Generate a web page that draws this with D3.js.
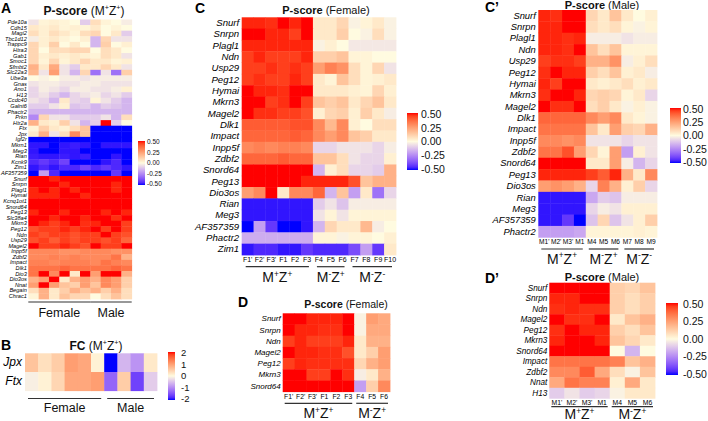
<!DOCTYPE html>
<html><head><meta charset="utf-8">
<script src="https://cdn.jsdelivr.net/npm/d3@7"></script>
<style>
body{margin:0;background:#fff;}
svg{display:block;font-family:"Liberation Sans",Arial,sans-serif;}
</style></head>
<body><svg id="chart" width="708" height="421"></svg>
<script>
// ---------------- DATA ----------------
const genesA = ["Pde10a","Cdh15","Magi2","Tbc1d12","Trappc9","Htra3","Gab1","Smoc1","Sfmbt2","Slc22a3","Ube3a","Gnas","Ano1","H13","Ccdc40","Galnt6","Phactr2","Prkn","Htr2a","Ftx","Jpx","Igf2r","Mkrn1","Meg3","Rian","Kcnk9","Zim1","AF357359","Snurf","Snrpn","Plagl1","Hymai","Kcnq1ot1","Snord64","Peg13","Slc38a4","Mkrn3","Peg12","Ndn","Usp29","Magel2","Inpp5f","Zdbf2","Impact","Dlk1","Dio3","Dio3os","Nnat","Begain","Chrac1"];
const samplesA = ["1","2","3","4","5","6","7","8","9","10"];
const sexGroupsA = [{label:"Female", from:"1", to:"6"},{label:"Male", from:"7", to:"10"}];
const valuesA = [
[-0.05,0.02,0.03,0.02,0.0,-0.1,0.08,0.02,0.0,-0.03],
[0.05,0.03,0.05,0.02,0.03,0.02,0.05,0.0,0.02,0.0],
[0.08,0.03,0.08,0.05,0.02,0.08,0.1,0.0,0.05,-0.1],
[-0.03,0.03,0.05,0.02,0.0,0.03,-0.15,0.1,-0.05,-0.05],
[0.1,0.03,0.12,0.0,0.05,0.0,-0.15,0.12,0.0,0.03],
[0.1,0.0,0.08,0.08,0.1,0.1,0.0,0.08,0.05,0.0],
[0.1,0.03,0.05,0.03,0.05,0.03,0.02,0.08,0.05,-0.05],
[0.1,0.02,0.1,0.02,0.05,0.1,0.05,0.05,0.02,0.03],
[0.2,0.05,0.22,-0.05,-0.1,0.05,0.05,0.1,0.05,-0.05],
[0.18,-0.05,0.25,-0.05,-0.15,0.1,-0.3,-0.05,-0.3,0.12],
[0.0,-0.02,0.0,-0.03,-0.03,-0.05,-0.03,-0.03,-0.03,-0.03],
[-0.05,-0.03,-0.03,-0.05,-0.05,-0.03,-0.03,-0.05,-0.05,-0.05],
[-0.08,-0.03,-0.05,-0.08,-0.03,-0.03,-0.05,-0.05,-0.03,0.03],
[-0.08,-0.05,-0.1,-0.15,-0.08,-0.05,-0.03,-0.08,-0.05,-0.1],
[-0.05,-0.08,-0.15,0.05,-0.08,-0.1,0.02,-0.05,-0.1,-0.15],
[-0.1,-0.1,-0.05,0.03,-0.12,-0.1,-0.15,-0.1,-0.12,-0.15],
[-0.15,-0.15,-0.15,-0.15,-0.15,-0.15,-0.15,-0.15,-0.15,-0.15],
[-0.25,0.1,-0.05,-0.05,-0.1,-0.1,-0.1,-0.05,-0.15,0.08],
[0.2,0.05,0.03,0.12,-0.05,-0.15,-0.1,0.5,-0.1,0.0],
[0.02,0.12,0.05,0.03,0.08,0.15,-0.5,-0.5,-0.5,-0.5],
[0.05,0.2,-0.05,0.08,0.3,0.15,-0.5,-0.5,-0.5,-0.5],
[-0.5,-0.5,-0.5,-0.5,-0.5,-0.5,-0.5,-0.5,-0.5,-0.5],
[-0.48,-0.48,-0.5,-0.48,-0.47,-0.48,-0.5,-0.48,-0.48,-0.48],
[-0.48,-0.5,-0.5,-0.48,-0.48,-0.5,-0.5,-0.5,-0.5,-0.5],
[-0.47,-0.48,-0.48,-0.47,-0.48,-0.47,-0.5,-0.5,-0.48,-0.5],
[-0.45,-0.42,-0.45,-0.4,-0.5,-0.5,-0.5,-0.48,-0.45,-0.5],
[-0.48,-0.45,-0.48,-0.45,-0.45,-0.4,-0.45,-0.42,-0.45,-0.48],
[-0.5,-0.2,-0.45,-0.5,-0.5,-0.5,-0.5,-0.5,-0.42,-0.5],
[0.5,0.5,0.48,0.5,0.5,0.5,0.5,0.5,0.5,0.5],
[0.5,0.5,0.5,0.48,0.5,0.5,0.5,0.5,0.48,0.5],
[0.48,0.5,0.48,0.5,0.48,0.5,0.5,0.5,0.48,0.5],
[0.48,0.48,0.48,0.5,0.5,0.48,0.5,0.5,0.5,0.5],
[0.5,0.5,0.5,0.5,0.5,0.5,0.5,0.5,0.5,0.5],
[0.5,0.5,0.5,0.5,0.5,0.5,0.5,0.5,0.5,0.5],
[0.48,0.5,0.5,0.48,0.5,0.5,0.5,0.48,0.5,0.48],
[0.5,0.5,0.48,0.5,0.5,0.48,0.5,0.5,0.47,0.5],
[0.5,0.48,0.45,0.48,0.5,0.47,0.48,0.5,0.5,0.45],
[0.42,0.45,0.45,0.48,0.45,0.48,0.5,0.45,0.5,0.45],
[0.45,0.42,0.45,0.45,0.42,0.45,0.45,0.5,0.45,0.42],
[0.42,0.45,0.4,0.45,0.42,0.45,0.45,0.42,0.45,0.38],
[0.5,0.45,0.45,0.48,0.45,0.42,0.5,0.45,0.45,0.5],
[0.3,0.3,0.3,0.28,0.28,0.3,0.3,0.3,0.28,0.28],
[0.3,0.3,0.32,0.3,0.32,0.3,0.3,0.3,0.35,0.2],
[0.32,0.32,0.3,0.32,0.32,0.32,0.3,0.35,0.32,0.3],
[0.35,0.35,0.35,0.38,0.35,0.35,0.35,0.35,0.38,0.35],
[0.35,0.5,0.3,0.5,0.05,0.5,0.25,0.5,0.5,0.2],
[0.2,0.25,0.5,0.05,0.2,0.25,0.2,0.3,0.25,0.12],
[0.25,0.5,0.25,0.15,0.12,0.25,0.15,0.3,0.25,0.12],
[0.08,0.2,0.05,0.12,0.2,0.15,0.2,0.12,0.2,0.08],
[0.02,0.2,0.05,0.15,0.1,0.1,0.0,0.08,0.15,0.08]
];

const genesB = ["Jpx","Ftx"];
const valuesB = [
[0.6,0.3,0.5,1.0,0.9,0.1,-2.0,-0.6,-0.9,0.2],
[-0.1,0.1,0.4,0.9,0.9,1.0,-1.3,0.5,-1.6,-0.4]
];
const ticksB = [2,1,0,-1,-2];
const ticksP = [0.5,0.25,0,-0.25,-0.5];

const genesC = ["Snurf","Snrpn","Plagl1","Ndn","Usp29","Peg12","Hymai","Mkrn3","Magel2","Dlk1","Impact","Inpp5f","Zdbf2","Snord64","Peg13","Dio3os","Rian","Meg3","AF357359","Phactr2","Zim1"];
const samplesC = ["F1'","F2'","F3'","F1","F2","F3","F4","F5","F6","F7","F8","F9","F10"];
const groupsC = [{label:"M+Z+",from:"F1'",to:"F3"},{label:"M-Z+",from:"F4",to:"F6"},{label:"M-Z-",from:"F7",to:"F10"}];
const valuesC = [
[0.48,0.48,0.47,0.5,0.48,0.5,0.05,0.05,0.1,-0.02,0.02,0.05,-0.02],
[0.5,0.5,0.48,0.48,0.45,0.5,0.05,0.05,0.12,0.0,-0.02,0.08,-0.02],
[0.48,0.48,0.48,0.48,0.48,0.48,-0.02,0.03,0.0,-0.04,-0.04,-0.04,-0.04],
[0.45,0.48,0.45,0.45,0.45,0.48,0.12,0.12,0.15,0.02,0.02,0.0,0.0],
[0.45,0.45,0.47,0.45,0.47,0.45,0.25,0.32,0.28,0.08,0.02,0.1,-0.05],
[0.45,0.47,0.45,0.45,0.48,0.45,0.05,0.02,0.15,0.08,0.02,0.03,0.05],
[0.5,0.48,0.48,0.47,0.5,0.5,0.05,0.05,0.05,0.03,0.02,0.1,0.03],
[0.5,0.5,0.45,0.47,0.5,0.45,0.15,0.12,0.15,0.05,0.1,0.15,0.05],
[0.5,0.47,0.47,0.45,0.45,0.42,0.03,0.1,0.12,0.03,0.12,0.05,-0.03],
[0.4,0.4,0.4,0.4,0.42,0.42,0.3,0.18,0.3,0.03,0.0,0.08,0.08],
[0.38,0.38,0.38,0.38,0.4,0.38,0.3,0.25,0.3,0.15,0.12,0.05,0.05],
[0.3,0.32,0.3,0.32,0.32,0.3,-0.08,-0.08,-0.05,-0.05,-0.05,-0.08,-0.03],
[0.38,0.38,0.38,0.4,0.38,0.38,0.15,0.15,0.08,-0.05,-0.08,-0.08,0.03],
[0.5,0.5,0.5,0.5,0.5,0.5,-0.15,0.03,0.08,-0.08,-0.08,-0.1,0.2],
[0.5,0.5,0.5,0.5,0.5,0.48,0.48,0.48,0.48,0.42,0.15,0.2,0.2],
[0.25,0.3,0.5,0.05,0.3,0.3,0.38,-0.15,0.15,-0.2,0.05,-0.3,-0.08],
[-0.48,-0.48,-0.48,-0.48,-0.48,-0.48,-0.1,-0.05,-0.12,-0.03,-0.03,-0.03,-0.03],
[-0.48,-0.48,-0.48,-0.48,-0.48,-0.48,-0.05,0.02,-0.05,0.02,0.02,0.02,0.02],
[-0.5,-0.2,-0.42,-0.5,-0.5,-0.48,-0.15,0.1,0.05,0.05,0.18,-0.03,0.0],
[-0.17,-0.17,-0.17,-0.17,-0.17,-0.17,0.02,0.02,-0.02,0.02,0.02,0.0,0.03],
[-0.48,-0.45,-0.45,-0.48,-0.48,-0.42,-0.45,-0.45,-0.45,-0.38,-0.2,-0.42,0.05]
];

const genesC2 = ["Snurf","Snrpn","Plagl1","Ndn","Usp29","Peg12","Hymai","Mkrn3","Magel2","Dlk1","Impact","Inpp5f","Zdbf2","Snord64","Peg13","Dio3os","Rian","Meg3","AF357359","Phactr2"];
const samplesC2 = ["M1'","M2'","M3'","M1","M4","M5","M6","M7","M8","M9"];
const groupsC2 = [{label:"M+Z+",from:"M1'",to:"M1"},{label:"M-Z+",from:"M4",to:"M6"},{label:"M-Z-",from:"M7",to:"M9"}];
const valuesC2 = [
[0.48,0.47,0.5,0.5,0.1,0.05,0.15,0.05,0.0,0.03],
[0.48,0.48,0.5,0.5,0.08,0.05,0.08,0.02,-0.02,0.02],
[0.48,0.48,0.47,0.48,-0.03,-0.03,-0.03,-0.05,-0.03,-0.03],
[0.48,0.48,0.47,0.5,0.15,0.08,0.15,0.02,0.02,0.02],
[0.45,0.47,0.47,0.45,0.2,0.2,0.28,-0.03,0.03,0.08],
[0.47,0.5,0.48,0.48,0.12,0.08,0.15,0.03,0.05,-0.03],
[0.48,0.45,0.5,0.5,0.05,0.03,0.05,0.08,0.03,0.05],
[0.47,0.5,0.5,0.48,0.1,0.12,0.1,0.02,0.05,-0.08],
[0.5,0.47,0.47,0.5,0.08,0.12,0.05,-0.02,0.03,-0.02],
[0.38,0.38,0.38,0.38,0.3,0.25,0.3,0.05,0.02,-0.02],
[0.35,0.35,0.35,0.35,0.15,0.05,0.25,0.12,0.1,0.2],
[0.3,0.3,0.28,0.3,-0.05,-0.05,-0.05,-0.08,-0.05,-0.05],
[0.35,0.35,0.42,0.25,0.1,0.02,0.25,-0.2,0.03,-0.05],
[0.5,0.5,0.5,0.5,0.05,0.05,0.25,-0.03,-0.15,-0.08],
[0.48,0.48,0.48,0.48,0.45,0.4,0.48,0.2,0.05,0.3],
[0.25,0.28,0.25,0.2,-0.08,0.32,0.2,0.03,0.12,-0.08],
[-0.48,-0.48,-0.48,-0.48,-0.18,-0.1,-0.12,-0.03,-0.03,-0.03],
[-0.48,-0.48,-0.48,-0.48,-0.08,-0.03,-0.05,0.03,0.03,0.03],
[-0.48,-0.48,-0.42,-0.5,-0.12,0.1,-0.12,-0.05,0.03,0.12],
[-0.2,-0.2,-0.2,-0.18,0.02,0.02,0.02,0.02,0.03,0.02]
];

const genesD = ["Snurf","Snrpn","Ndn","Magel2","Peg12","Mkrn3","Snord64"];
const samplesD = ["F1'","F2'","F3'","F1","F2","F3","F4","F5","F6"];
const groupsD = [{label:"M+Z+",from:"F1'",to:"F3"},{label:"M-Z+",from:"F4",to:"F6"}];
const valuesD = [
[0.5,0.5,0.48,0.48,0.48,0.5,-0.02,0.25,0.22],
[0.5,0.48,0.48,0.47,0.47,0.5,-0.02,0.22,0.22],
[0.45,0.48,0.45,0.45,0.45,0.48,0.05,0.2,0.2],
[0.5,0.48,0.48,0.47,0.47,0.42,0.05,0.12,0.25],
[0.45,0.48,0.47,0.47,0.47,0.47,0.1,0.2,0.25],
[0.5,0.5,0.45,0.45,0.5,0.47,-0.03,0.05,0.2],
[0.5,0.5,0.5,0.5,0.5,0.5,-0.2,0.12,0.3]
];

const genesD2 = ["Snurf","Snrpn","Ndn","Magel2","Peg12","Mkrn3","Snord64","Impact","Zdbf2","Nnat","H13"];
const samplesD2 = ["M1'","M2'","M3'","M1","M4","M5","M6"];
const groupsD2 = [{label:"M+Z+",from:"M1'",to:"M1"},{label:"M-Z+",from:"M4",to:"M6"}];
const valuesD2 = [
[0.5,0.5,0.5,0.5,0.12,0.1,0.15],
[0.48,0.48,0.5,0.5,0.12,0.08,0.12],
[0.47,0.48,0.47,0.47,0.12,0.08,0.12],
[0.5,0.47,0.47,0.5,0.05,0.15,0.2],
[0.47,0.5,0.48,0.48,0.12,0.08,0.15],
[0.48,0.5,0.5,0.48,0.15,0.1,0.05],
[0.5,0.5,0.5,0.5,0.0,-0.15,0.0],
[0.35,0.35,0.35,0.35,0.32,0.15,0.2],
[0.3,0.3,0.4,0.22,0.08,-0.02,0.15],
[0.22,0.35,0.32,0.32,0.03,0.22,0.05],
[-0.1,-0.05,-0.1,-0.08,-0.02,0.05,0.05]
];

// ---------------- DRAWING ----------------
const svg = d3.select("#chart");
const MID = "#fffbe0";
const colorP = d3.scaleLinear().domain([-0.5,0,0.5]).range(["#0000ff",MID,"#ff0000"]).interpolate(d3.interpolateLab).clamp(true);
const colorB = d3.scaleLinear().domain([-2,0,2]).range(["#0000ff",MID,"#ff0000"]).interpolate(d3.interpolateLab).clamp(true);

const defs = svg.append("defs");
function gradient(id, scale, lo, hi){
  const lg = defs.append("linearGradient").attr("id",id).attr("x1",0).attr("y1",1).attr("x2",0).attr("y2",0);
  d3.range(0,1.0001,0.05).forEach(t=>{
    lg.append("stop").attr("offset",t).attr("stop-color",scale(lo+(hi-lo)*t));
  });
}
gradient("gP", colorP, -0.5, 0.5);
gradient("gB", colorB, -2, 2);

function supText(sel, label, fs){
  const parts = label.match(/[A-Z][+-]/g);
  const up = fs*0.38;
  let pending = 0;
  parts.forEach(p=>{
    sel.append("tspan").attr("dy",pending).text(p[0]);
    sel.append("tspan").attr("font-size",fs*0.6).attr("dy",-up).text(p[1]);
    pending = up;
  });
  return pending;
}

function heatmap(o){
  const g = svg.append("g");
  const x = d3.scaleBand().domain(o.cols).range([o.x0,o.x1]);
  const y = d3.scaleBand().domain(o.rows).range([o.y0,o.y1]);
  o.rows.forEach((r,i)=>{
    o.cols.forEach((c,j)=>{
      g.append("rect").attr("x",x(c)).attr("y",y(r))
        .attr("width",x.bandwidth()+0.4).attr("height",y.bandwidth()+0.4)
        .attr("fill",o.color(o.values[i][j]));
    });
  });
  const ya = g.append("g").attr("transform",`translate(${o.x0},0)`)
    .call(d3.axisLeft(y).tickSize(0).tickPadding(o.rowPad||2));
  ya.select(".domain").remove();
  ya.selectAll("text").attr("font-style","italic").attr("font-size",o.rowFont)
    .attr("font-family","Liberation Sans, Arial, sans-serif").attr("fill","#000");
  if(o.colFont){
    const xa = g.append("g").attr("transform",`translate(0,${o.y1})`)
      .call(d3.axisBottom(x).tickSize(0).tickPadding(o.colPad||2));
    xa.select(".domain").remove();
    xa.selectAll("text").attr("font-size",o.colFont)
      .attr("font-family","Liberation Sans, Arial, sans-serif").attr("fill","#000");
  }
  if(o.groups){
    o.groups.forEach(gr=>{
      const a = x(gr.from)+o.lineInset, b = x(gr.to)+x.bandwidth()-o.lineInset;
      g.append("line").attr("x1",a).attr("x2",b).attr("y1",o.lineY).attr("y2",o.lineY)
        .attr("stroke","#333").attr("stroke-width",1.2);
      const t = g.append("text").attr("x",(a+b)/2).attr("y",o.groupY).attr("text-anchor","middle")
        .attr("font-size",o.groupFont).attr("fill","#111");
      if(o.sup) supText(t, gr.label, o.groupFont); else t.text(gr.label);
    });
  }
  return {x,y,g};
}

function title(xc, yb, bold, rest, size, supRest){
  const t = svg.append("text").attr("x",xc).attr("y",yb).attr("text-anchor","middle").attr("font-size",size).attr("fill","#111");
  t.append("tspan").attr("font-weight","bold").text(bold);
  if(supRest){
    t.append("tspan").text(" (");
    const back = supText(t, supRest, size);
    t.append("tspan").attr("dy",back).text(")");
  } else t.append("tspan").text(rest);
}
function panelLabel(x,y,txt){
  svg.append("text").attr("x",x).attr("y",y).attr("font-size",14).attr("font-weight","bold").attr("fill","#000").text(txt);
}
function legend(x,y,w,h,grad,ticks,domain,font,lx){
  svg.append("rect").attr("x",x).attr("y",y).attr("width",w).attr("height",h).attr("fill",`url(#${grad})`);
  const s = d3.scaleLinear().domain(domain).range([y+h-1,y+1]);
  ticks.forEach(t=>{
    svg.append("text").attr("x",lx).attr("y",s(t)).attr("dy","0.36em").attr("font-size",font).attr("fill","#111")
      .text(domain[1]>1 ? String(t) : d3.format(".2f")(t).replace("−","-"));
  });
}

// Panel A
panelLabel(1,13,"A");
title(84,15,"P-score","",12,"M+Z+");
heatmap({rows:genesA, cols:samplesA, values:valuesA, color:colorP,
  x0:28.3,x1:131.7,y0:19.5,y1:299, rowFont:5.6, rowPad:1.5,
  groups:sexGroupsA, lineInset:0, lineY:302, groupY:317, groupFont:12.5, sup:false});
legend(138,141,7,44,"gP",ticksP,[-0.5,0.5],6.5,147);

// Panel B
panelLabel(1,350,"B");
title(96,350,"FC","",12,"M+Z+");
heatmap({rows:genesB, cols:samplesA, values:valuesB, color:colorB,
  x0:25,x1:157,y0:353.3,y1:390.7, rowFont:12, rowPad:3,
  groups:sexGroupsA, lineInset:3, lineY:398.5, groupY:412, groupFont:12.5, sup:false});
legend(168,352,7,48,"gB",ticksB,[-2,2],9.5,181);

// Panel C
panelLabel(195,13,"C");
title(326,14,"P-score"," (Female)",11);
heatmap({rows:genesC, cols:samplesC, values:valuesC, color:colorP,
  x0:241.7,x1:396,y0:17.3,y1:255, rowFont:9.6, rowPad:2.5, colFont:7, colPad:2,
  groups:groupsC, lineInset:4, lineY:266.7, groupY:282, groupFont:14, sup:true});
legend(407,113,11,57,"gP",ticksP,[-0.5,0.5],10.5,421);

// Panel C'
panelLabel(485,12,"C’");
title(602,9,"P-score"," (Male)",11);
heatmap({rows:genesC2, cols:samplesC2, values:valuesC2, color:colorP,
  x0:538.3,x1:657,y0:10,y1:237.3, rowFont:9.4, rowPad:2.5, colFont:6.6, colPad:2,
  groups:groupsC2, lineInset:3, lineY:249, groupY:263.5, groupFont:14, sup:true});
legend(670,108,11,55,"gP",ticksP,[-0.5,0.5],10.5,683);

// Panel D
panelLabel(238,307,"D");
title(346,308,"P-score"," (Female)",10.5);
heatmap({rows:genesD, cols:samplesD, values:valuesD, color:colorP,
  x0:282.7,x1:390,y0:313.3,y1:391.7, rowFont:8, rowPad:2, colFont:6.8, colPad:2,
  groups:groupsD, lineInset:2, lineY:403.3, groupY:418, groupFont:14, sup:true});

// Panel D'
panelLabel(485,283,"D’");
title(602,281,"P-score"," (Male)",11);
heatmap({rows:genesD2, cols:samplesD2, values:valuesD2, color:colorP,
  x0:549.3,x1:655,y0:282.7,y1:398.3, rowFont:8.2, rowPad:2, colFont:6.8, colPad:1.5,
  groups:groupsD2, lineInset:2, lineY:406.7, groupY:419, groupFont:14, sup:true});
legend(666,303,12,72,"gP",ticksP,[-0.5,0.5],10.5,683);
</script></body></html>
